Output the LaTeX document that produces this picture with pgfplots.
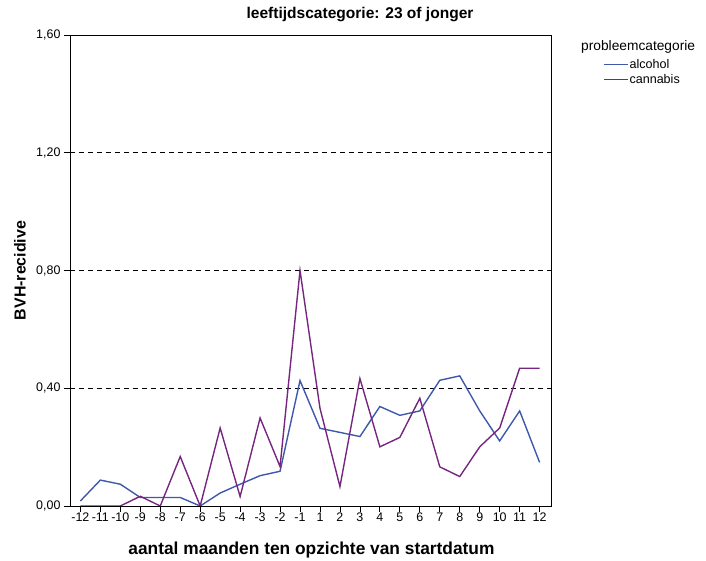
\documentclass[border=0pt]{standalone}
\usepackage{fontspec}
\setmainfont{Liberation Sans}
\usepackage{pgfplots}
\pgfplotsset{compat=1.18}
\definecolor{alc}{RGB}{62,88,172}
\definecolor{can}{RGB}{118,38,128}
\begin{document}
\begin{tikzpicture}
\useasboundingbox (-70bp,-55bp) rectangle (636bp,506bp);
\begin{axis}[
  at={(0bp,0bp)}, anchor=south west,
  scale only axis, width=481bp, height=471bp,
  xmin=-0.52, xmax=23.57, ymin=0, ymax=1.6,
  xtick={0,...,23},
  xticklabels={-12,-11,-10,-9,-8,-7,-6,-5,-4,-3,-2,-1,1,2,3,4,5,6,7,8,9,10,11,12},
  ytick={0,0.4,0.8,1.2,1.6},
  yticklabel style={/pgf/number format/.cd, fixed, fixed zerofill, precision=2, use comma, assume math mode=true},
  tick label style={font=\fontsize{12.5}{14}\selectfont, black},
  xticklabel style={inner sep=1pt},
  tick align=outside, major tick length=6bp,
  tick style={black, line width=0.8pt},
  xtick pos=bottom, ytick pos=left,
  axis line style={black, line width=0.9pt},
  ymajorgrids, grid style={black, dash pattern=on 5bp off 4bp, line width=0.7pt},
  xlabel={\textbf{aantal maanden ten opzichte van startdatum}},
  xlabel style={font=\fontsize{17.4}{20}\selectfont, at={(axis description cs:0.502,-0.0934)}, anchor=center},
  ylabel={\textbf{BVH-recidive}},
  ylabel style={font=\fontsize{16}{18}\selectfont, at={(axis description cs:-0.104,0.5)}, anchor=center},
  title={\textbf{leeftijdscategorie: 23 of jonger}},
  title style={font=\fontsize{15.6}{18}\selectfont, at={(axis description cs:0.603,1.030)}, anchor=center},
  legend style={at={(axis description cs:1.108,0.951)}, anchor=north west, draw=none, fill=none,
    font=\fontsize{12.6}{14}\selectfont, inner sep=0pt, row sep=2.5bp,
    nodes={inner sep=1pt}},
  legend cell align=left,
  legend image code/.code={\draw[#1, line width=1.4pt] (0bp,0bp) -- (24bp,0bp);},
]
\addplot[alc, line width=1.4pt] coordinates {
(0,0.017) (1,0.088) (2,0.074) (3,0.029) (4,0.029) (5,0.029) (6,0) (7,0.044) (8,0.074) (9,0.103) (10,0.118) (11,0.426)
(12,0.264) (13,0.250) (14,0.236) (15,0.338) (16,0.308) (17,0.323) (18,0.427) (19,0.442) (20,0.323) (21,0.221) (22,0.323) (23,0.148)};
\addlegendentry{alcohol}
\addplot[can, line width=1.4pt] coordinates {
(0,0) (1,0) (2,0) (3,0.033) (4,0) (5,0.168) (6,0) (7,0.265) (8,0.032) (9,0.299) (10,0.134) (11,0.800)
(12,0.332) (13,0.066) (14,0.433) (15,0.201) (16,0.233) (17,0.366) (18,0.133) (19,0.100) (20,0.201) (21,0.265) (22,0.468) (23,0.468)};
\addlegendentry{cannabis}
\end{axis}
\node[anchor=west, inner sep=0pt, font=\fontsize{13.8}{16}\selectfont] at (511bp,459bp) {probleemcategorie};
\end{tikzpicture}
\end{document}
